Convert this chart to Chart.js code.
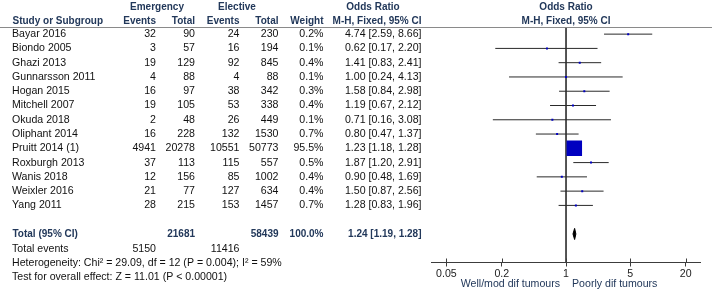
<!DOCTYPE html>
<html>
<head>
<meta charset="utf-8">
<script src="https://cdn.jsdelivr.net/npm/chart.js@4/dist/chart.umd.min.js"></script>
<style>
html,body{margin:0;padding:0;background:#fff;}
canvas{display:block;}
</style>
</head>
<body>
<canvas id="c" width="712" height="293"></canvas>
<script>
const studies = ["Bayar 2016","Biondo 2005","Ghazi 2013","Gunnarsson 2011","Hogan 2015","Mitchell 2007","Okuda 2018","Oliphant 2014","Pruitt 2014 (1)","Roxburgh 2013","Wanis 2018","Weixler 2016","Yang 2011"];
const emEvents = [32,3,19,4,16,19,2,16,4941,37,12,21,28];
const emTotal = [90,57,129,88,97,105,48,228,20278,113,156,77,215];
const elEvents = [24,16,92,4,38,53,26,132,10551,115,85,127,153];
const elTotal = [230,194,845,88,342,338,449,1530,50773,557,1002,634,1457];
const weights = [0.2,0.1,0.4,0.1,0.3,0.4,0.1,0.7,95.5,0.5,0.4,0.4,0.7];
const orEst = [4.74,0.62,1.41,1.00,1.58,1.19,0.71,0.80,1.23,1.87,0.90,1.50,1.28];
const ciLow = [2.59,0.17,0.83,0.24,0.84,0.67,0.16,0.47,1.18,1.20,0.48,0.87,0.83];
const ciHigh = [8.66,2.20,2.41,4.13,2.98,2.12,3.08,1.37,1.28,2.91,1.69,2.56,1.96];
const totalEm = 21681, totalEl = 58439, totalWeight = "100.0%";
const totalOR = 1.24, totalLow = 1.19, totalHigh = 1.28;
const eventsEm = 5150, eventsEl = 11416;
const heterogeneityText = "Heterogeneity: Chi\u00b2 = 29.09, df = 12 (P = 0.004); I\u00b2 = 59%";
const overallText = "Test for overall effect: Z = 11.01 (P < 0.00001)";
const tickValues = [0.05,0.2,1,5,20];
const tickLabels = ["0.05","0.2","1","5","20"];
const favourLeft = "Well/mod dif tumours", favourRight = "Poorly dif tumours";

const HEAD = '#22385a', BODY = '#111111', LINE = '#3c3c3c', BLUE = '#0000c0';
const FONT = '"Liberation Sans", Arial, sans-serif';
const BODY_FONT = '10.6px ' + FONT, BOLD_FONT = 'bold 10px ' + FONT;
const totalRow = 14;

const fmt = v => v.toFixed(2);
const orText = (e,l,h) => fmt(e) + ' [' + fmt(l) + ', ' + fmt(h) + ']';

// CI segments with gaps
const ciData = [];
studies.forEach((s,i) => {
  ciData.push({x: ciLow[i], y: i}, {x: ciHigh[i], y: i}, {x: orEst[i], y: null});
});
const sqData = studies.map((s,i) => ({x: orEst[i], y: i}));
const sqRadius = weights.map(w => Math.max(2, 15.5*Math.sqrt(w/95.5)) / (2*Math.SQRT1_2));
const dH = 0.39;
const diamond = [
  {x: totalLow, y: totalRow}, {x: totalOR, y: totalRow - dH},
  {x: totalHigh, y: totalRow}, {x: totalOR, y: totalRow + dH}, {x: totalLow, y: totalRow}
];

const tablePlugin = {
  id: 'table',
  afterDraw(chart) {
    const ctx = chart.ctx, ys = chart.scales.y, xs = chart.scales.x;
    const Y = r => ys.getPixelForValue(r);
    ctx.save();
    ctx.textBaseline = 'middle';
    const txt = (t, x, y, align, bold, color) => {
      ctx.font = bold ? BOLD_FONT : BODY_FONT;
      ctx.fillStyle = color;
      ctx.textAlign = align;
      ctx.fillText(t, x, y);
    };
    // header line
    ctx.strokeStyle = '#8a8a8a';
    ctx.lineWidth = 1;
    ctx.beginPath(); ctx.moveTo(0, 27.5); ctx.lineTo(712, 27.5); ctx.stroke();
    // headers
    const h1 = 7.5, h2 = 21.5;
    txt('Emergency', 157, h1, 'center', true, HEAD);
    txt('Elective', 237, h1, 'center', true, HEAD);
    txt('Odds Ratio', 373, h1, 'center', true, HEAD);
    txt('Odds Ratio', xs.getPixelForValue(1), h1, 'center', true, HEAD);
    txt('Study or Subgroup', 12.5, h2, 'left', true, HEAD);
    txt('Events', 156, h2, 'right', true, HEAD);
    txt('Total', 195, h2, 'right', true, HEAD);
    txt('Events', 239.5, h2, 'right', true, HEAD);
    txt('Total', 278.5, h2, 'right', true, HEAD);
    txt('Weight', 323.5, h2, 'right', true, HEAD);
    txt('M-H, Fixed, 95% CI', 421.5, h2, 'right', true, HEAD);
    txt('M-H, Fixed, 95% CI', xs.getPixelForValue(1), h2, 'center', true, HEAD);
    // rows
    studies.forEach((s,i) => {
      const y = Y(i);
      txt(s, 12, y, 'left', false, BODY);
      txt(String(emEvents[i]), 156, y, 'right', false, BODY);
      txt(String(emTotal[i]), 195, y, 'right', false, BODY);
      txt(String(elEvents[i]), 239.5, y, 'right', false, BODY);
      txt(String(elTotal[i]), 278.5, y, 'right', false, BODY);
      txt(weights[i].toFixed(1) + '%', 323.5, y, 'right', false, BODY);
      txt(orText(orEst[i], ciLow[i], ciHigh[i]), 421.5, y, 'right', false, BODY);
    });
    // total
    const yt = Y(totalRow);
    txt('Total (95% CI)', 12.5, yt, 'left', true, HEAD);
    txt(String(totalEm), 195, yt, 'right', true, HEAD);
    txt(String(totalEl), 278.5, yt, 'right', true, HEAD);
    txt(totalWeight, 323.5, yt, 'right', true, HEAD);
    txt(orText(totalOR, totalLow, totalHigh), 421.5, yt, 'right', true, HEAD);
    const ye = Y(totalRow + 1.05);
    txt('Total events', 12, ye, 'left', false, BODY);
    txt(String(eventsEm), 156, ye, 'right', false, BODY);
    txt(String(eventsEl), 239.5, ye, 'right', false, BODY);
    txt(heterogeneityText, 12, Y(totalRow + 2.07), 'left', false, BODY);
    txt(overallText, 12, Y(totalRow + 3.05), 'left', false, BODY);
    // favour labels
    const x1 = xs.getPixelForValue(1);
    txt(favourLeft, x1 - 6, 284.5, 'right', false, HEAD);
    txt(favourRight, x1 + 6, 284.5, 'left', false, HEAD);
    // tick marks above the axis
    ctx.strokeStyle = LINE;
    ctx.beginPath();
    tickValues.forEach(v => {
      const px = Math.round(xs.getPixelForValue(v)) + 0.5;
      ctx.moveTo(px, chart.chartArea.bottom - 4);
      ctx.lineTo(px, chart.chartArea.bottom);
    });
    ctx.stroke();
    ctx.restore();
  }
};

new Chart(document.getElementById('c'), {
  type: 'scatter',
  data: {
    datasets: [
      {type: 'line', data: sqData, showLine: false, pointStyle: 'rect', pointRadius: sqRadius,
       backgroundColor: BLUE, borderColor: BLUE, borderWidth: 0, order: 0},
      {type: 'line', data: diamond, showLine: true, fill: 'shape', backgroundColor: '#000',
       borderColor: '#000', borderWidth: 1, pointRadius: 0, tension: 0, order: 1},
      {type: 'line', data: ciData, showLine: true, spanGaps: false, borderColor: '#2a2a2a',
       borderWidth: 1, pointRadius: 0, tension: 0, order: 2},
      {type: 'line', data: [{x: 1, y: -0.5}, {x: 1, y: 16}], showLine: true, borderColor: LINE,
       borderWidth: 1, pointRadius: 0, order: 3}
    ]
  },
  options: {
    responsive: false,
    animation: false,
    devicePixelRatio: 1,
    layout: {padding: {left: 431, right: 11.5, top: 27, bottom: 0}},
    plugins: {legend: {display: false}, tooltip: {enabled: false}},
    scales: {
      x: {
        type: 'logarithmic', min: 0.034, max: 29,
        afterBuildTicks: s => { s.ticks = tickValues.map(v => ({value: v})); },
        afterFit: s => { s.height = 30.5; },
        ticks: {autoSkip: false, maxRotation: 0, padding: 1, color: '#222',
                font: {family: FONT, size: 10.6},
                callback: (v, i) => tickLabels[i]},
        grid: {drawOnChartArea: false, drawTicks: true, tickLength: 4, color: LINE},
        border: {display: true, color: LINE, width: 1}
      },
      y: {type: 'linear', display: false, min: -0.5, max: 16, reverse: true}
    }
  },
  plugins: [tablePlugin]
});
</script>
</body>
</html>
